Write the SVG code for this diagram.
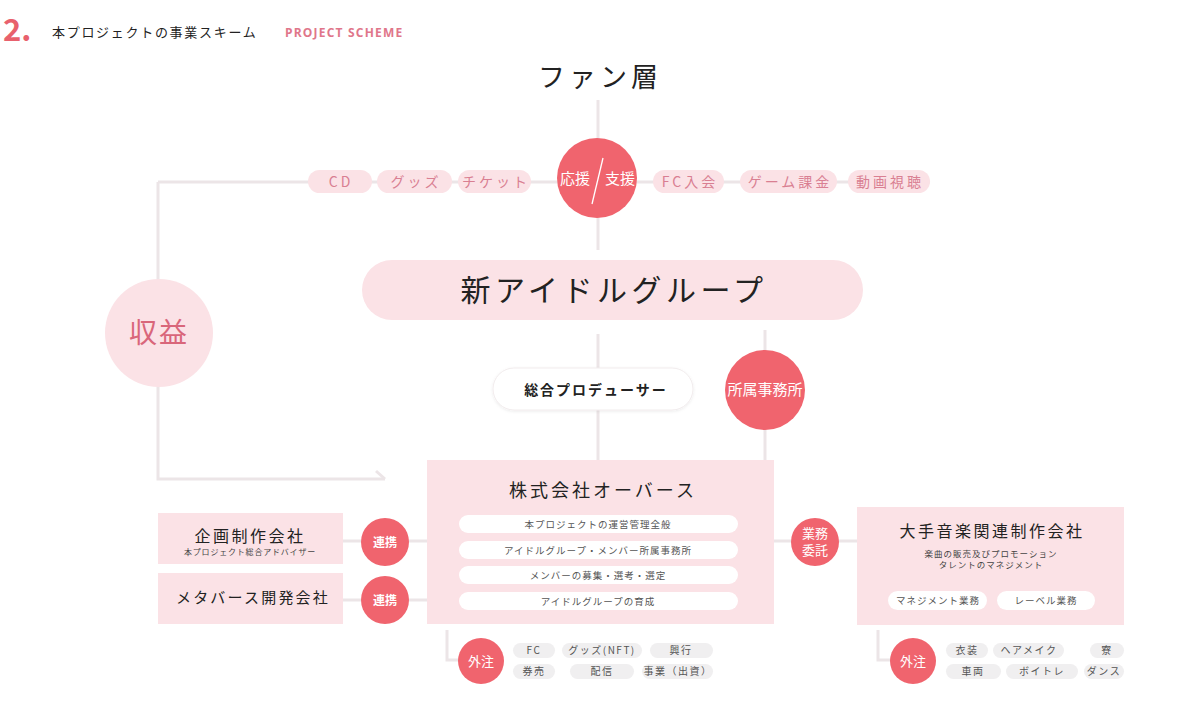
<svg xmlns="http://www.w3.org/2000/svg" width="1200" height="709" viewBox="0 0 1200 709">
<defs>
<style>
text{font-family:"Noto Sans CJK JP","Noto Sans",sans-serif;}
.ln{stroke:#ece5e7;stroke-width:3;fill:none;}
.red{fill:#f0646e;}
.pk{fill:#fbe2e6;}
.tpill{fill:#fbe2e6;}
.tpt{fill:#d97f92;font-size:14px;letter-spacing:3px;text-anchor:middle;}
.wp{fill:#ffffff;}
.wpt{fill:#555;font-size:9.5px;letter-spacing:1px;text-anchor:middle;}
.gp{fill:#f0eff0;}
.gpt{fill:#555;font-size:10px;letter-spacing:1.5px;text-anchor:middle;}
.ct{fill:#fff;text-anchor:middle;}
</style>
<filter id="sh" x="-10%" y="-30%" width="120%" height="160%"><feDropShadow dx="0" dy="1" stdDeviation="1.5" flood-color="#000" flood-opacity="0.08"/></filter>
</defs>
<rect width="1200" height="709" fill="#ffffff"/>

<g id="header">
<text x="3" y="41" font-size="31" font-weight="bold" fill="#e8616d">2.</text>
<text x="52" y="37" font-size="13" letter-spacing="1.7" fill="#222">本プロジェクトの事業スキーム</text>
<text x="285" y="37" font-size="12" font-weight="bold" letter-spacing="1.2" fill="#e0768a" style="font-family:'Open Sans','Noto Sans',sans-serif">PROJECT SCHEME</text>
</g>

<g id="connectors">
<line class="ln" x1="598" y1="100" x2="598" y2="250"/>
<line class="ln" x1="158" y1="182" x2="930" y2="182"/>
<polyline class="ln" points="158,182 158,479 385,479"/>
<line class="ln" x1="385" y1="479" x2="376" y2="471"/>
<line class="ln" x1="598" y1="334" x2="598" y2="460"/>
<line class="ln" x1="765" y1="330" x2="765" y2="460"/>
<line class="ln" x1="343" y1="541" x2="428" y2="541"/>
<line class="ln" x1="343" y1="600" x2="428" y2="600"/>
<line class="ln" x1="774" y1="541" x2="857" y2="541"/>
<polyline class="ln" points="447,630 447,660 470,660"/>
<polyline class="ln" points="878,630 878,660 900,660"/>
</g>

<g id="fan">
<text x="600" y="87" font-size="27" letter-spacing="4" text-anchor="middle" fill="#222">ファン層</text>
</g>

<g id="pills-top">
<rect class="tpill" x="308" y="170" width="64" height="23" rx="11.5"/><text class="tpt" x="341" y="187">CD</text>
<rect class="tpill" x="377" y="170" width="75" height="23" rx="11.5"/><text class="tpt" x="416" y="187">グッズ</text>
<rect class="tpill" x="458" y="170" width="73" height="23" rx="11.5"/><text class="tpt" x="496" y="187">チケット</text>
<rect class="tpill" x="653" y="170" width="71" height="23" rx="11.5"/><text class="tpt" x="690" y="187">FC入会</text>
<rect class="tpill" x="740" y="170" width="97" height="23" rx="11.5"/><text class="tpt" x="790" y="187">ゲーム課金</text>
<rect class="tpill" x="848" y="170" width="82" height="23" rx="11.5"/><text class="tpt" x="890" y="187">動画視聴</text>
</g>

<g id="support">
<circle class="red" cx="597" cy="178" r="40"/>
<text class="ct" x="575" y="184" font-size="15">応援</text>
<text class="ct" x="620" y="184" font-size="15">支援</text>
<line x1="603" y1="158" x2="592" y2="204" stroke="#fff" stroke-width="1.3"/>
</g>

<g id="idol">
<rect class="pk" x="362" y="260" width="501" height="60" rx="30"/>
<text x="614" y="301" font-size="30" letter-spacing="4.5" text-anchor="middle" fill="#222">新アイドルグループ</text>
</g>

<g id="revenue">
<circle class="pk" cx="159" cy="333" r="54"/>
<text x="159" y="343" font-size="28" letter-spacing="2" text-anchor="middle" fill="#d9667a">収益</text>
</g>

<g id="producer">
<rect x="493" y="368" width="200" height="42" rx="21" fill="#fff" stroke="#f1eced" stroke-width="1" filter="url(#sh)"/>
<text x="596" y="395" font-size="14" font-weight="bold" letter-spacing="2" text-anchor="middle" fill="#222">総合プロデューサー</text>
</g>

<g id="agency">
<circle class="red" cx="765" cy="390" r="40"/>
<text class="ct" x="765" y="395" font-size="15">所属事務所</text>
</g>

<g id="overse">
<rect class="pk" x="427" y="460" width="347" height="164"/>
<text x="603" y="497" font-size="18" letter-spacing="3" text-anchor="middle" fill="#222">株式会社オーバース</text>
<rect class="wp" x="459" y="515" width="279" height="18" rx="9"/><text class="wpt" x="598" y="527.5">本プロジェクトの運営管理全般</text>
<rect class="wp" x="459" y="541" width="279" height="18" rx="9"/><text class="wpt" x="598" y="553.5">アイドルグループ・メンバー所属事務所</text>
<rect class="wp" x="459" y="566" width="279" height="18" rx="9"/><text class="wpt" x="598" y="578.5">メンバーの募集・選考・選定</text>
<rect class="wp" x="459" y="592" width="279" height="18" rx="9"/><text class="wpt" x="598" y="604.5">アイドルグループの育成</text>
</g>

<g id="planning">
<rect class="pk" x="158" y="513" width="185" height="51"/>
<text x="250" y="542" font-size="16" letter-spacing="2.5" text-anchor="middle" fill="#222">企画制作会社</text>
<text x="250" y="555" font-size="8" letter-spacing="0.8" text-anchor="middle" fill="#444">本プロジェクト総合アドバイザー</text>
</g>

<g id="metaverse">
<rect class="pk" x="158" y="573" width="185" height="51"/>
<text x="253" y="603" font-size="15" letter-spacing="2.2" text-anchor="middle" fill="#222">メタバース開発会社</text>
</g>

<g id="renkei1">
<circle class="red" cx="385" cy="542" r="24"/>
<text class="ct" x="385" y="547" font-size="12" font-weight="bold">連携</text>
</g>
<g id="renkei2">
<circle class="red" cx="385" cy="600" r="24"/>
<text class="ct" x="385" y="605" font-size="12" font-weight="bold">連携</text>
</g>

<g id="itaku">
<circle class="red" cx="815" cy="542" r="24"/>
<text class="ct" x="815" y="538" font-size="13">業務</text>
<text class="ct" x="815" y="555" font-size="13">委託</text>
</g>

<g id="music">
<rect class="pk" x="857" y="507" width="267" height="118"/>
<text x="992" y="537" font-size="16" letter-spacing="2.5" text-anchor="middle" fill="#222">大手音楽関連制作会社</text>
<text x="991" y="557" font-size="8.5" letter-spacing="1" text-anchor="middle" fill="#444">楽曲の販売及びプロモーション</text>
<text x="991" y="568" font-size="8.5" letter-spacing="1" text-anchor="middle" fill="#444">タレントのマネジメント</text>
<rect class="wp" x="888" y="591" width="99" height="19" rx="9.5"/><text class="wpt" x="938" y="604">マネジメント業務</text>
<rect class="wp" x="997" y="591" width="98" height="19" rx="9.5"/><text class="wpt" x="1046" y="604">レーベル業務</text>
</g>

<g id="outsource-left">
<circle class="red" cx="481" cy="661" r="23"/>
<text class="ct" x="481" y="666" font-size="13">外注</text>
<rect class="gp" x="513" y="643" width="42" height="15" rx="7.5"/><text class="gpt" x="534" y="654">FC</text>
<rect class="gp" x="562" y="643" width="80" height="15" rx="7.5"/><text class="gpt" x="602" y="654">グッズ(NFT)</text>
<rect class="gp" x="650" y="643" width="63" height="15" rx="7.5"/><text class="gpt" x="681" y="654">興行</text>
<rect class="gp" x="513" y="664" width="42" height="15" rx="7.5"/><text class="gpt" x="534" y="675">券売</text>
<rect class="gp" x="570" y="664" width="64" height="15" rx="7.5"/><text class="gpt" x="602" y="675">配信</text>
<rect class="gp" x="642" y="664" width="71" height="15" rx="7.5"/><text class="gpt" x="678" y="675">事業（出資）</text>
</g>

<g id="outsource-right">
<circle class="red" cx="913" cy="661" r="23"/>
<text class="ct" x="913" y="666" font-size="13">外注</text>
<rect class="gp" x="946" y="643" width="42" height="15" rx="7.5"/><text class="gpt" x="967" y="654">衣装</text>
<rect class="gp" x="993" y="643" width="71" height="15" rx="7.5"/><text class="gpt" x="1029" y="654">ヘアメイク</text>
<rect class="gp" x="1090" y="643" width="34" height="15" rx="7.5"/><text class="gpt" x="1107" y="654">寮</text>
<rect class="gp" x="946" y="664" width="55" height="15" rx="7.5"/><text class="gpt" x="973" y="675">車両</text>
<rect class="gp" x="1006" y="664" width="72" height="15" rx="7.5"/><text class="gpt" x="1042" y="675">ボイトレ</text>
<rect class="gp" x="1084" y="664" width="40" height="15" rx="7.5"/><text class="gpt" x="1104" y="675">ダンス</text>
</g>
</svg>
